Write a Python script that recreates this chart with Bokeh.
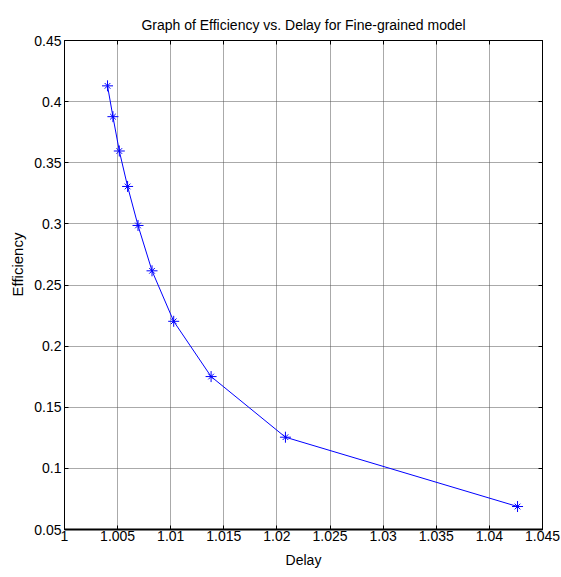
from bokeh.plotting import figure
from bokeh.models import (Range1d, FixedTicker, LinearAxis, Title,
                          CustomJSTickFormatter, ColumnDataSource)
from bokeh.embed import file_html
from bokeh.resources import INLINE

# ---- data ----
delay = [1.00405, 1.00456, 1.00516, 1.00594, 1.00692, 1.00824,
         1.01028, 1.01380, 1.02080, 1.04265]
efficiency = [0.4129, 0.3877, 0.3596, 0.3306, 0.2987, 0.2616,
              0.2203, 0.1751, 0.1255, 0.0688]

x_ticks = [1.0, 1.005, 1.01, 1.015, 1.02, 1.025, 1.03, 1.035, 1.04, 1.045]
x_tick_labels = ["1", "1.005", "1.01", "1.015", "1.02", "1.025", "1.03",
                 "1.035", "1.04", "1.045"]
y_ticks = [0.05, 0.1, 0.15, 0.2, 0.25, 0.3, 0.35, 0.4, 0.45]
y_tick_labels = ["0.05", "0.1", "0.15", "0.2", "0.25", "0.3", "0.35",
                 "0.4", "0.45"]

title_text = "Graph of Efficiency vs. Delay for Fine-grained model"
x_label = "Delay"
y_label = "Efficiency"

FONT = "Liberation Sans"
BLUE = "#0000ff"

src = ColumnDataSource(dict(x=delay, y=efficiency))

p = figure(frame_width=478, frame_height=489,
           x_range=Range1d(x_ticks[0], x_ticks[-1]),
           y_range=Range1d(y_ticks[0], y_ticks[-1]),
           output_backend="svg", toolbar_location=None,
           min_border_left=64, min_border_right=19,
           min_border_top=40, min_border_bottom=48)
p.background_fill_color = "white"
p.border_fill_color = "white"
p.outline_line_color = "black"
p.outline_line_width = 1

# title (top, centred over the frame)
p.title.text = title_text
p.title.align = "center"
p.title.text_font = FONT
p.title.text_font_size = "14px"
p.title.text_font_style = "normal"
p.title.text_color = "black"
p.title.standoff = 15

# grid
for g in (p.xgrid, p.ygrid):
    g.grid_line_color = "#555555"
    g.grid_line_dash = "1 1"
    g.grid_line_width = 1
p.xgrid.ticker = FixedTicker(ticks=x_ticks)
p.ygrid.ticker = FixedTicker(ticks=y_ticks)

# main axes
xa = p.xaxis[0]
ya = p.yaxis[0]
xa.ticker = FixedTicker(ticks=x_ticks)
ya.ticker = FixedTicker(ticks=y_ticks)
xa.major_label_overrides = dict(zip(x_ticks, x_tick_labels))
ya.major_label_overrides = dict(zip(y_ticks, y_tick_labels))
for ax in (xa, ya):
    ax.major_tick_in = 4
    ax.major_tick_out = 0
    ax.minor_tick_in = 0
    ax.minor_tick_out = 0
    ax.axis_line_color = "black"
    ax.major_tick_line_color = "black"
    ax.major_label_text_font = FONT
    ax.major_label_text_font_size = "14px"
    ax.major_label_text_color = "black"
xa.axis_line_width = 2
xa.major_label_standoff = 1
ya.major_label_standoff = 3

xa.axis_label = x_label
xa.axis_label_text_font = FONT
xa.axis_label_text_font_size = "14px"
xa.axis_label_text_font_style = "normal"
xa.axis_label_text_color = "black"
xa.axis_label_standoff = 8

# y label as a left-side title so it can be shifted along the axis
ytitle = Title(text=y_label, align="left", offset=233,
               text_font=FONT, text_font_size="15px",
               text_font_style="normal", text_color="black", standoff=12)
p.add_layout(ytitle, "left")

# box ticks on top and right
empty = CustomJSTickFormatter(code="return ''")
top = LinearAxis(ticker=FixedTicker(ticks=x_ticks), formatter=empty)
right = LinearAxis(ticker=FixedTicker(ticks=y_ticks), formatter=empty)
for ax in (top, right):
    ax.major_tick_in = 4
    ax.major_tick_out = 0
    ax.minor_tick_in = 0
    ax.minor_tick_out = 0
    ax.major_label_standoff = 0
    ax.axis_line_color = "black"
    ax.major_tick_line_color = "black"
p.add_layout(top, "above")
p.add_layout(right, "right")

# data
p.line("x", "y", source=src, line_color=BLUE, line_width=1)
p.scatter("x", "y", source=src, marker="cross", size=11,
          line_color=BLUE, line_width=1)
p.scatter("x", "y", source=src, marker="x", size=8,
          line_color=BLUE, line_width=1)

open("out.html", "w").write(file_html(p, INLINE))
